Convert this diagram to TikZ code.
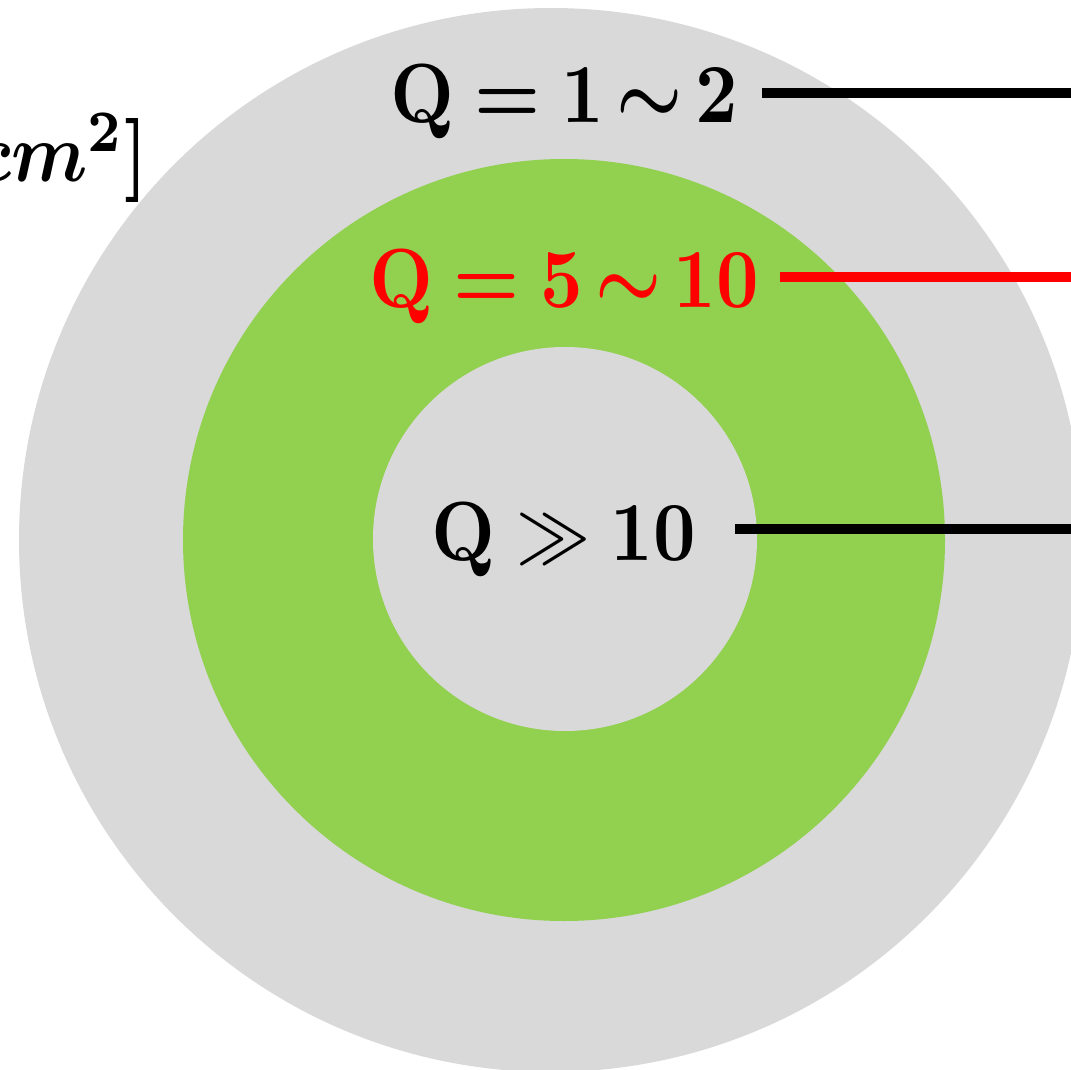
\documentclass[tikz,border=0pt]{standalone}
\usepackage{amsmath,amssymb,bm}
\definecolor{ringgray}{HTML}{D9D9D9}
\definecolor{ringgreen}{HTML}{92D050}
\definecolor{qred}{HTML}{FF0000}
\newcommand{\tld}{\,\mathord{\bm{\sim}}\,}
\tikzset{
  qlabel/.style={anchor=base,inner sep=0pt,xscale=7.4,yscale=8.4},
  leader/.style={line width=10pt}
}
\begin{document}
\begin{tikzpicture}[x=1pt,y=1pt]
\useasboundingbox (0,0) rectangle (1071,-1070);
\clip (0,0) rectangle (1071,-1070);
\fill[ringgray] (551,-540) circle (532);
\fill[ringgreen] (564,-540) circle (381);
\fill[ringgray] (565,-539) circle (192);
\node[qlabel] (q1) at (564,-123) {$\mathbf{Q}\bm{=}\mathbf{1}\tld\mathbf{2}$};
\node[qlabel,text=qred] (q2) at (564,-307) {$\mathbf{Q}\bm{=}\mathbf{5}\tld\mathbf{10}$};
\node[qlabel] (q3) at (564,-560) {$\mathbf{Q}\gg\mathbf{10}$};
\node[qlabel,anchor=base east] (unit) at (150,-182) {$\bm{cm}^{\mathbf{2}}\bm{]}$};
\coordinate (e1) at (1071,-93);
\coordinate (e2) at (1071,-277);
\coordinate (e3) at (1071,-529);
\coordinate (s1) at (762,-93);
\coordinate (s2) at (780,-277);
\coordinate (s3) at (735,-529);
\draw[leader] (s1) -- (e1);
\draw[leader,draw=qred] (s2) -- (e2);
\draw[leader] (s3) -- (e3);
\end{tikzpicture}
\end{document}
